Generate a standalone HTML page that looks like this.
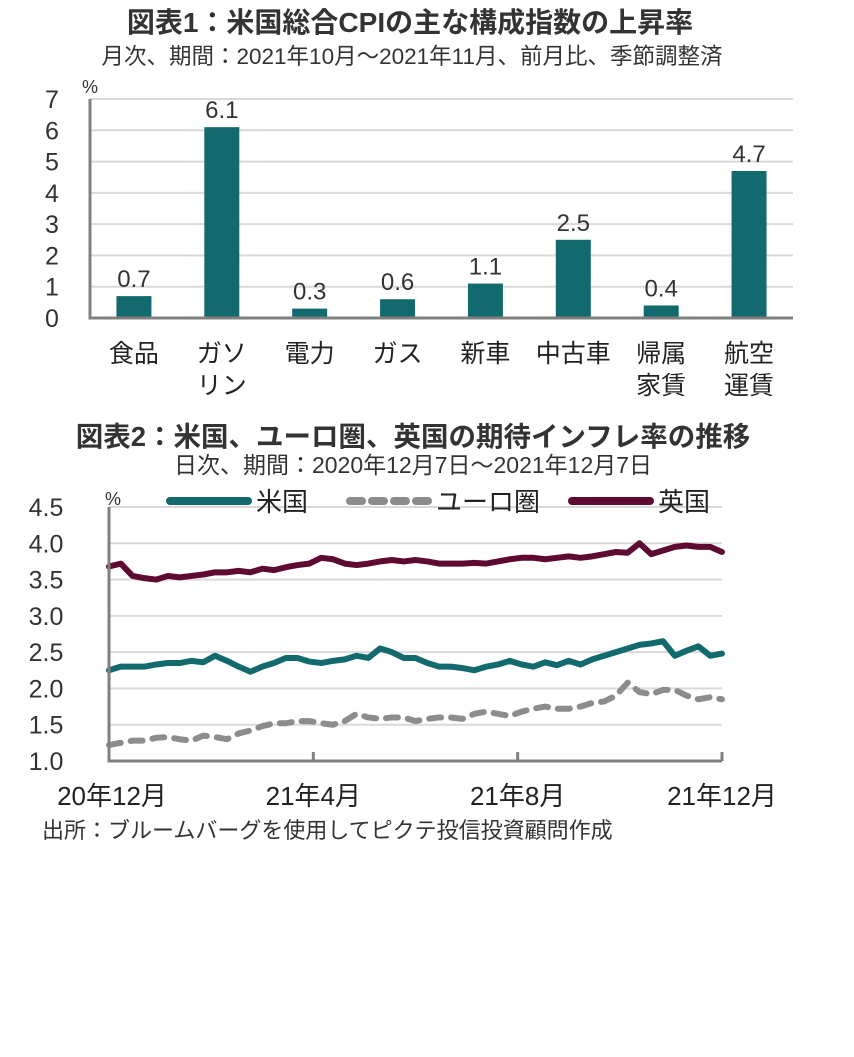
<!DOCTYPE html>
<html><head><meta charset="utf-8"><style>
body{margin:0;background:#fff;width:854px;height:1052px;overflow:hidden;font-family:"Liberation Sans","Noto Sans CJK JP",sans-serif;color:#222}
svg text{font-family:"Liberation Sans","Noto Sans CJK JP",sans-serif}
</style></head><body>
<svg width="854" height="1052">
<text x="410" y="32" text-anchor="middle" font-size="28" font-weight="bold" fill="#333">図表1：米国総合CPIの主な構成指数の上昇率</text>
<text x="412" y="64" text-anchor="middle" font-size="22.5" fill="#333">月次、期間：2021年10月～2021年11月、前月比、季節調整済</text>
<g id="c1"></g>
<text x="413" y="446" text-anchor="middle" font-size="27.5" font-weight="bold" fill="#333">図表2：米国、ユーロ圏、英国の期待インフレ率の推移</text>
<text x="413" y="473" text-anchor="middle" font-size="23" fill="#333">日次、期間：2020年12月7日～2021年12月7日</text>
<g id="c2"></g>
<text x="42" y="838" font-size="22" fill="#333">出所：ブルームバーグを使用してピクテ投信投資顧問作成</text>
</svg>
<script>
const cats=[["食品"],["ガソ","リン"],["電力"],["ガス"],["新車"],["中古車"],["帰属","家賃"],["航空","運賃"]];
const vals=[0.7,6.1,0.3,0.6,1.1,2.5,0.4,4.7];
const yTicks1=[0,1,2,3,4,5,6,7];
const dates=["20年12月","21年4月","21年8月","21年12月"];
const us=[2.25,2.3,2.3,2.3,2.33,2.35,2.35,2.38,2.36,2.45,2.38,2.3,2.23,2.3,2.35,2.42,2.42,2.37,2.35,2.38,2.4,2.45,2.42,2.55,2.5,2.42,2.42,2.35,2.3,2.3,2.28,2.25,2.3,2.33,2.38,2.33,2.3,2.36,2.32,2.38,2.33,2.4,2.45,2.5,2.55,2.6,2.62,2.65,2.45,2.52,2.58,2.45,2.48];
const euro=[1.22,1.25,1.28,1.28,1.32,1.33,1.3,1.28,1.35,1.33,1.3,1.38,1.42,1.48,1.52,1.52,1.55,1.55,1.52,1.5,1.55,1.65,1.6,1.58,1.6,1.6,1.55,1.58,1.6,1.6,1.58,1.65,1.68,1.65,1.62,1.68,1.72,1.75,1.72,1.72,1.75,1.8,1.82,1.9,2.08,1.95,1.92,1.98,1.98,1.9,1.85,1.88,1.85];
const uk=[3.68,3.72,3.55,3.52,3.5,3.55,3.53,3.55,3.57,3.6,3.6,3.62,3.6,3.65,3.63,3.67,3.7,3.72,3.8,3.78,3.72,3.7,3.72,3.75,3.77,3.75,3.77,3.75,3.72,3.72,3.72,3.73,3.72,3.75,3.78,3.8,3.8,3.78,3.8,3.82,3.8,3.82,3.85,3.88,3.87,4.0,3.85,3.9,3.95,3.97,3.95,3.95,3.88];
const yTicks2=[1.0,1.5,2.0,2.5,3.0,3.5,4.0,4.5];
const NS="http://www.w3.org/2000/svg";
function mk(p,t,a,txt){const e=document.createElementNS(NS,t);for(const k in a)e.setAttribute(k,a[k]);if(txt!=null)e.textContent=txt;p.appendChild(e);return e;}
// chart 1
const c1=document.getElementById('c1');
const X0=90,X1=793,Y0=318,YT=99;
const y1=v=>Y0-(v/7)*(Y0-YT);
const bw=(X1-X0)/cats.length;
yTicks1.forEach(t=>{
 if(t>0){const g=mk(c1,'line',{x1:X0,x2:X1,y1:y1(t),y2:y1(t),stroke:'#d9d9d9','stroke-width':2});
 }
 const l=mk(c1,'text',{x:52,y:y1(t)+9,'text-anchor':'middle','font-size':25,fill:'#333'},t);
 
});
let u=mk(c1,'text',{x:82,y:93,'font-size':18,fill:'#333'},'%');
vals.forEach((v,i)=>{
 const cx=X0+bw*(i+0.5);
 const b=mk(c1,'rect',{x:cx-17.5,y:y1(v),width:35,height:Y0-y1(v),fill:'#136a6e'});
 
 const t=mk(c1,'text',{x:cx,y:y1(v)-9,'text-anchor':'middle','font-size':24,fill:'#333'},v.toFixed(1));
 
 cats[i].forEach((s,j)=>{const c=mk(c1,'text',{x:cx,y:362+j*32,'text-anchor':'middle','font-size':25,fill:'#222'},s);
 });
});
let ax=mk(c1,'path',{d:`M${X0} ${YT} V${Y0} H${X1}`,stroke:'#808080','stroke-width':3,fill:'none'});

// chart 2
const c2=document.getElementById('c2');
const L=109,R=722,B=761,T=507;
const y2=v=>B-(v-1)/3.5*(B-T);
const x2=i=>L+(R-L)*i/(us.length-1);
yTicks2.forEach(t=>{
 if(t>1){const g=mk(c2,'line',{x1:L,x2:R,y1:y2(t),y2:y2(t),stroke:'#d9d9d9','stroke-width':2});
 }
 const l=mk(c2,'text',{x:46,y:y2(t)+9,'text-anchor':'middle','font-size':25,fill:'#333'},t.toFixed(1));
 
});
u=mk(c2,'text',{x:105,y:505,'font-size':18,fill:'#333'},'%');
function line(d,col,dash,name){const p=mk(c2,'polyline',{points:d.map((v,i)=>x2(i)+','+y2(v)).join(' '),fill:'none',stroke:col,'stroke-width':6,'stroke-linejoin':'round','stroke-linecap':'round'});
 if(dash)p.setAttribute('stroke-dasharray',dash);
 }
line(euro,'#8c8c8c','12 10','series-euro');
line(us,'#136a6e',null,'series-us');
line(uk,'#5e0a32',null,'series-uk');
ax=mk(c2,'path',{d:`M${L} ${T} V${B} H${R}`,stroke:'#808080','stroke-width':3,fill:'none'});

dates.forEach((d,i)=>{
 const xx=L+(R-L)*i/(dates.length-1);
 const tk=mk(c2,'line',{x1:xx,x2:xx,y1:B,y2:B-9,stroke:'#808080','stroke-width':3});
 
 const t=mk(c2,'text',{x:i===0?112:(i===3?722:xx),y:805,'text-anchor':'middle','font-size':26,fill:'#222'},d);
 
});
[['#136a6e',null,'米国',170],['#8c8c8c','12 10','ユーロ圏',350],['#5e0a32',null,'英国',572]].forEach(([c,da,n,x])=>{
 const g=mk(c2,'g',{});
 const l=mk(g,'line',{x1:x,x2:x+78,y1:501,y2:501,stroke:c,'stroke-width':8,'stroke-linecap':'round'});if(da)l.setAttribute('stroke-dasharray',da);
 mk(g,'text',{x:x+86,y:511,'font-size':26,fill:'#222'},n);
});
</script>
</body></html>
